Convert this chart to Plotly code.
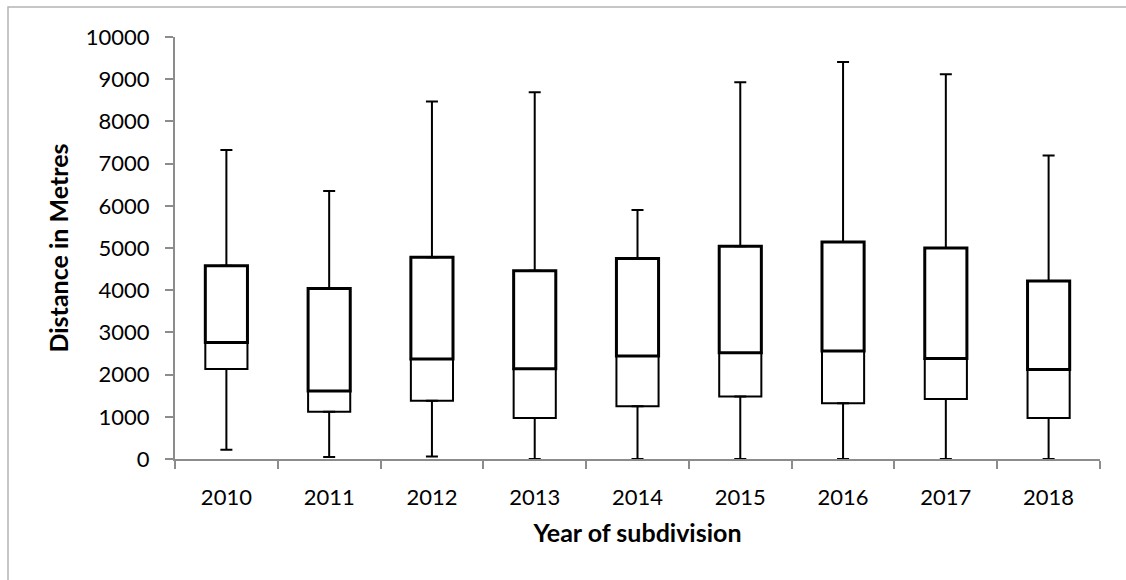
import numpy as np
import plotly.graph_objects as go

years = ["2010", "2011", "2012", "2013", "2014", "2015", "2016", "2017", "2018"]
minimum = [220, 50, 60, 0, 0, 0, 0, 0, 0]
q1 = [2130, 1120, 1380, 970, 1250, 1480, 1320, 1420, 970]
median = [2760, 1610, 2370, 2140, 2440, 2520, 2560, 2380, 2120]
q3 = [4580, 4040, 4780, 4460, 4750, 5040, 5140, 5000, 4220]
maximum = [7320, 6350, 8470, 8690, 5900, 8930, 9410, 9120, 7190]

y_ticks = list(range(0, 10001, 1000))
y_tick_labels = [str(v) for v in y_ticks]

mn = np.array(minimum)
a1 = np.array(q1)
md = np.array(median)
a3 = np.array(q3)
mx = np.array(maximum)

FONT = "Lato"
AXIS_GREY = "#8c8c8c"

fig = go.Figure()

# lower part of box (Q1 -> median)
fig.add_trace(go.Bar(
    x=years, y=md - a1, base=a1, width=0.41,
    marker=dict(color="white", line=dict(color="black", width=2)),
    hoverinfo="skip",
))
# upper part of box (median -> Q3)
fig.add_trace(go.Bar(
    x=years, y=a3 - md, base=md, width=0.41,
    marker=dict(color="white", line=dict(color="black", width=3)),
    hoverinfo="skip",
))
# lower whisker
fig.add_trace(go.Scatter(
    x=years, y=a1, mode="markers",
    marker=dict(size=1, color="rgba(0,0,0,0)"),
    error_y=dict(type="data", symmetric=False, array=[0] * len(years),
                 arrayminus=a1 - mn, color="black", thickness=2, width=6),
    hoverinfo="skip",
))
# upper whisker
fig.add_trace(go.Scatter(
    x=years, y=a3, mode="markers",
    marker=dict(size=1, color="rgba(0,0,0,0)"),
    error_y=dict(type="data", symmetric=False, array=mx - a3,
                 arrayminus=[0] * len(years), color="black", thickness=2, width=6),
    hoverinfo="skip",
))

fig.update_layout(
    width=1126, height=580,
    margin=dict(l=175, r=26, t=37, b=121),
    paper_bgcolor="white", plot_bgcolor="white",
    barmode="overlay", showlegend=False,
    font=dict(family=FONT, color="black", size=22),
    xaxis=dict(
        type="category", range=[-0.5, len(years) - 0.5],
        showline=True, linecolor=AXIS_GREY, linewidth=2,
        ticks="outside", tickson="boundaries", ticklen=8, tickwidth=1.5,
        tickcolor=AXIS_GREY, showgrid=False, zeroline=False,
        tickfont=dict(family=FONT, size=22, color="black"),
        ticklabelstandoff=18,
        title=dict(text="<b>Year of subdivision</b>", standoff=15,
                   font=dict(family=FONT, size=25, color="black")),
    ),
    yaxis=dict(
        range=[0, 10000], tickvals=y_ticks, ticktext=y_tick_labels,
        showline=True, linecolor=AXIS_GREY, linewidth=2,
        ticks="outside", ticklen=8, tickwidth=1.5, tickcolor=AXIS_GREY,
        showgrid=False, zeroline=False,
        tickfont=dict(family=FONT, size=22, color="black"),
        ticklabelstandoff=11,
        title=dict(text="<b>Distance in Metres</b>", standoff=10,
                   font=dict(family=FONT, size=25, color="black")),
    ),
    shapes=[dict(
        type="rect", xref="paper", yref="paper",
        x0=(8 - 175) / 925, x1=(1140 - 175) / 925,
        y0=(459 - 600) / 422, y1=(459 - 7) / 422,
        line=dict(color="#b4b4b4", width=1.5), fillcolor="rgba(0,0,0,0)",
        layer="below",
    )],
)

fig.write_html("out.html")
